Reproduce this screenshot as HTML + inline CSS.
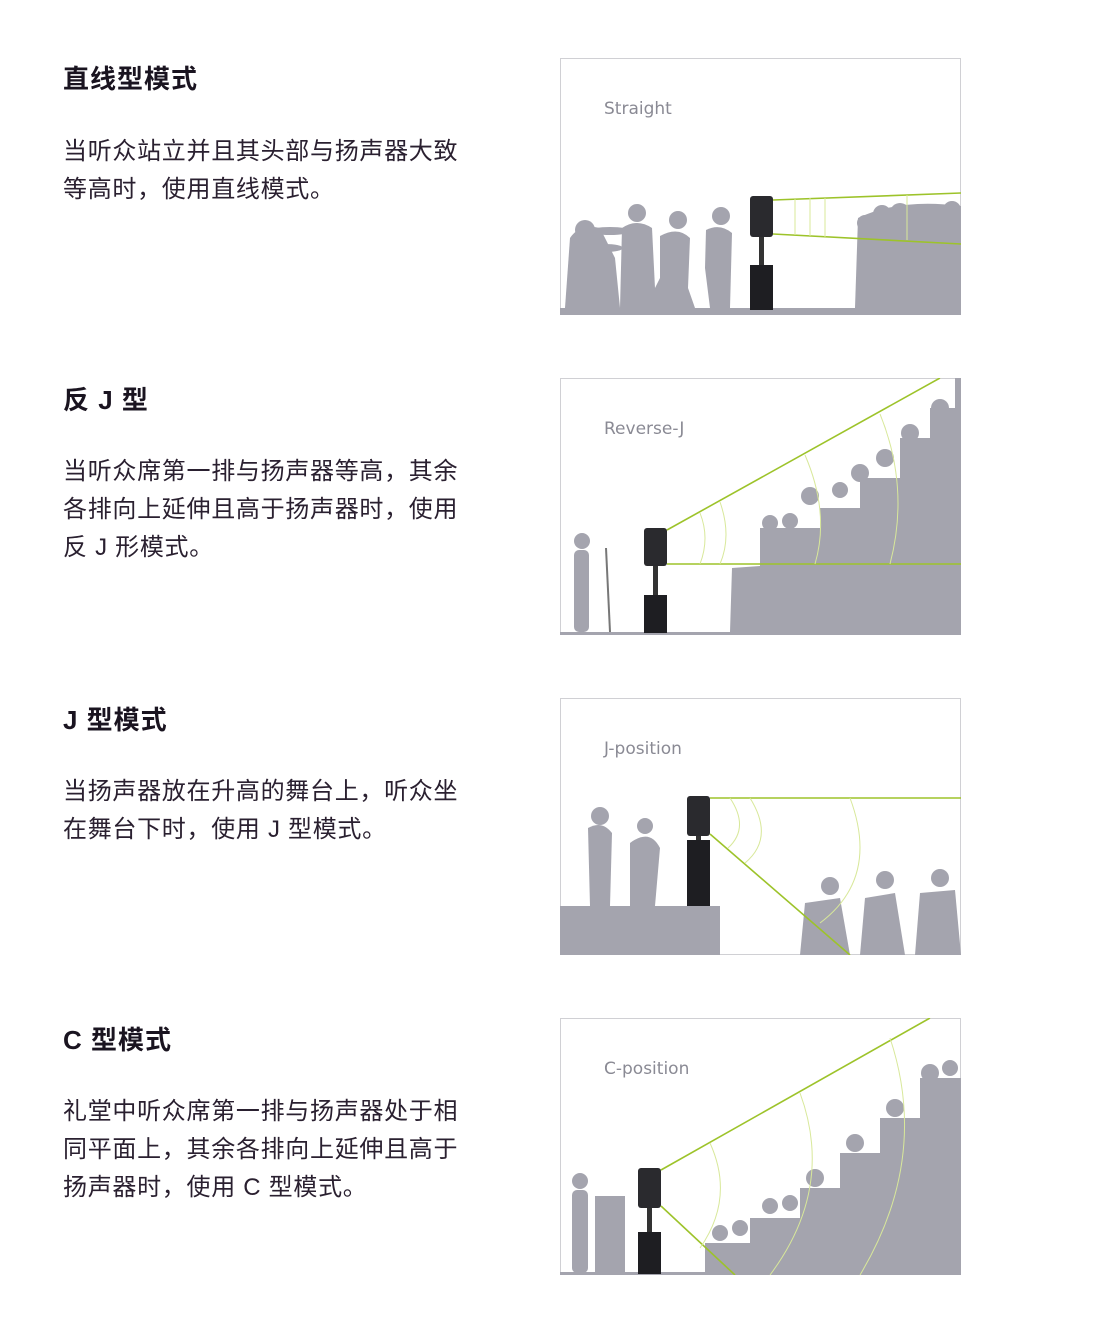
<!DOCTYPE html>
<html><head><meta charset="utf-8"><style>
body{margin:0;width:1108px;height:1328px;background:#fff;position:relative;overflow:hidden;font-family:"Liberation Sans","Noto Sans CJK SC",sans-serif;color:#1a1420}
.h{position:absolute;left:63px;font-size:26px;font-weight:bold;letter-spacing:1px;white-space:nowrap;line-height:30px}
.p{position:absolute;left:63px;font-size:24px;letter-spacing:0.7px;line-height:38px;white-space:nowrap;color:#2a2030}
svg.pn{position:absolute;left:560px;width:401px;height:257px}
</style></head><body>
<div class="h" style="top:64px">直线型模式</div>
<div class="p" style="top:133px">当听众站立并且其头部与扬声器大致<br>等高时，使用直线模式。</div>
<div class="h" style="top:385px">反 J 型</div>
<div class="p" style="top:453px">当听众席第一排与扬声器等高，其余<br>各排向上延伸且高于扬声器时，使用<br>反 J 形模式。</div>
<div class="h" style="top:705px">J 型模式</div>
<div class="p" style="top:773px">当扬声器放在升高的舞台上，听众坐<br>在舞台下时，使用 J 型模式。</div>
<div class="h" style="top:1025px">C 型模式</div>
<div class="p" style="top:1093px">礼堂中听众席第一排与扬声器处于相<br>同平面上，其余各排向上延伸且高于<br>扬声器时，使用 C 型模式。</div>

<!-- Panel 1 -->
<svg class="pn" style="top:58px" viewBox="0 0 401 257">
<rect x="0.5" y="0.5" width="400" height="256" fill="#fff" stroke="#d0d0d4"/>
<text x="44" y="56" font-family="DejaVu Sans,sans-serif" font-size="17" fill="#8a8a94">Straight</text>
<g fill="#a4a4ae">
<path d="M5,250 L10,180 Q20,165 40,170 L55,200 L60,250Z"/>
<circle cx="25" cy="172" r="10"/>
<ellipse cx="50" cy="173" rx="20" ry="4"/><ellipse cx="45" cy="190" rx="18" ry="4"/>
<circle cx="77" cy="155" r="9"/><path d="M62,170 Q77,160 92,170 L96,250 L60,250Z"/>
<circle cx="118" cy="162" r="9"/><path d="M100,178 Q118,168 130,180 L128,230 L135,250 L85,250 L100,220Z"/>
<circle cx="161" cy="158" r="9"/><path d="M146,172 Q160,165 172,175 L170,250 L150,250 L145,210Z"/>
<path d="M295,250 L298,160 Q340,140 401,148 L401,250Z"/>
<circle cx="305" cy="165" r="8"/><circle cx="322" cy="156" r="9"/><circle cx="340" cy="155" r="10"/><circle cx="358" cy="160" r="8"/><circle cx="373" cy="155" r="9"/><circle cx="392" cy="152" r="9"/>
<rect x="0" y="250" width="401" height="7"/>
</g>
<rect x="190" y="138" width="23" height="41" rx="3" fill="#2a2a2e"/><rect x="199" y="179" width="5" height="30" fill="#333"/><rect x="190" y="207" width="23" height="45" fill="#1e1e22"/>
<g stroke="#9dc32a" stroke-width="1.6" fill="none"><path d="M213,142 L401,135"/><path d="M213,176 L401,186"/></g>
<g stroke="#d8e89a" stroke-width="1" fill="none"><path d="M235,141 V177M250,140 V178M265,140 V179M347,137 V182"/></g>
</svg>

<!-- Panel 2 -->
<svg class="pn" style="top:378px" viewBox="0 0 401 257">
<rect x="0.5" y="0.5" width="400" height="256" fill="#fff" stroke="#d0d0d4"/>
<text x="44" y="56" font-family="DejaVu Sans,sans-serif" font-size="17" fill="#8a8a94">Reverse-J</text>
<g fill="#a4a4ae">
<path d="M170,254 L172,190 L200,188 L200,150 L260,150 L260,130 L300,130 L300,100 L340,100 L340,60 L370,60 L370,30 L395,30 L395,0 L401,0 L401,254 Z"/>
<circle cx="210" cy="145" r="8"/><circle cx="230" cy="143" r="8"/><circle cx="250" cy="118" r="9"/><circle cx="280" cy="112" r="8"/><circle cx="300" cy="95" r="9"/><circle cx="325" cy="80" r="9"/><circle cx="350" cy="55" r="9"/><circle cx="380" cy="30" r="9"/>
<circle cx="22" cy="163" r="8"/><rect x="14" y="172" width="15" height="82" rx="5"/>
<rect x="0" y="254" width="401" height="3"/>
</g>
<line x1="46" y1="170" x2="50" y2="254" stroke="#777" stroke-width="2"/>
<rect x="84" y="150" width="23" height="38" rx="3" fill="#2a2a2e"/><rect x="93" y="188" width="5" height="30" fill="#333"/><rect x="84" y="217" width="23" height="38" fill="#1e1e22"/>
<g stroke="#9dc32a" stroke-width="1.6" fill="none"><path d="M107,152 L380,0"/><path d="M107,186 L401,186"/></g>
<g stroke="#d8e89a" stroke-width="1" fill="none"><path d="M140,135 Q150,160 140,186M160,124 Q172,158 160,186M245,77 Q270,135 255,186M320,36 Q350,110 330,186"/></g>
</svg>

<!-- Panel 3 -->
<svg class="pn" style="top:698px" viewBox="0 0 401 257">
<rect x="0.5" y="0.5" width="400" height="256" fill="#fff" stroke="#d0d0d4"/>
<text x="44" y="56" font-family="DejaVu Sans,sans-serif" font-size="17" fill="#8a8a94">J-position</text>
<g fill="#a4a4ae">
<rect x="0" y="208" width="160" height="49"/>
<circle cx="40" cy="118" r="9"/><path d="M28,130 Q42,122 52,135 L50,208 L30,208Z"/>
<circle cx="85" cy="128" r="8"/><path d="M70,145 Q90,130 100,150 L95,208 L70,208Z"/>
<path d="M240,257 L245,205 L280,200 L290,257Z"/><circle cx="270" cy="188" r="9"/>
<path d="M300,257 L305,200 L335,195 L345,257Z"/><circle cx="325" cy="182" r="9"/>
<path d="M355,257 L360,195 L395,192 L401,257Z"/><circle cx="380" cy="180" r="9"/>
</g>
<rect x="127" y="98" width="23" height="40" rx="3" fill="#2a2a2e"/><rect x="136" y="138" width="5" height="6" fill="#333"/><rect x="127" y="142" width="23" height="66" fill="#1e1e22"/>
<g stroke="#9dc32a" stroke-width="1.6" fill="none"><path d="M150,100 L401,100"/><path d="M150,136 L290,257"/></g>
<g stroke="#d8e89a" stroke-width="1" fill="none"><path d="M170,100 Q190,130 168,150M190,100 Q215,140 185,165M290,100 Q320,180 260,225"/></g>
</svg>

<!-- Panel 4 -->
<svg class="pn" style="top:1018px" viewBox="0 0 401 257">
<rect x="0.5" y="0.5" width="400" height="256" fill="#fff" stroke="#d0d0d4"/>
<text x="44" y="56" font-family="DejaVu Sans,sans-serif" font-size="17" fill="#8a8a94">C-position</text>
<g fill="#a4a4ae">
<path d="M145,257 L145,225 L190,225 L190,200 L240,200 L240,170 L280,170 L280,135 L320,135 L320,100 L360,100 L360,60 L401,60 L401,257Z"/>
<circle cx="160" cy="215" r="8"/><circle cx="180" cy="210" r="8"/><circle cx="210" cy="188" r="8"/><circle cx="230" cy="185" r="8"/><circle cx="255" cy="160" r="9"/><circle cx="295" cy="125" r="9"/><circle cx="335" cy="90" r="9"/><circle cx="370" cy="55" r="9"/><circle cx="390" cy="50" r="8"/>
<circle cx="20" cy="163" r="8"/><rect x="12" y="172" width="16" height="83" rx="5"/>
<rect x="35" y="178" width="30" height="77"/>
<rect x="0" y="254" width="401" height="3"/>
</g>
<rect x="78" y="150" width="23" height="40" rx="3" fill="#2a2a2e"/><rect x="87" y="190" width="5" height="26" fill="#333"/><rect x="78" y="214" width="23" height="42" fill="#1e1e22"/>
<g stroke="#9dc32a" stroke-width="1.6" fill="none"><path d="M101,152 L370,0"/><path d="M101,188 L175,257"/></g>
<g stroke="#d8e89a" stroke-width="1" fill="none"><path d="M150,125 Q175,180 140,230M240,75 Q275,170 210,257M330,20 Q370,140 300,257"/></g>
</svg>
</body></html>
